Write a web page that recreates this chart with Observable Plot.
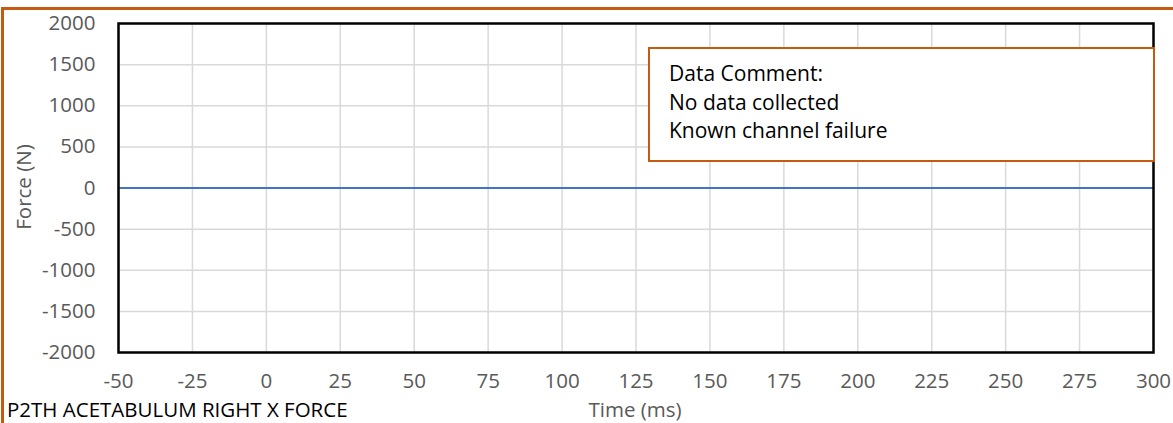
<!DOCTYPE html>
<html>
<head>
<meta charset="utf-8">
<script src="https://cdn.jsdelivr.net/npm/d3@7"></script>
<script src="https://cdn.jsdelivr.net/npm/@observablehq/plot@0.6"></script>
<style>
  html, body { margin: 0; padding: 0; background: #fff; overflow: hidden; }
  #wrap { position: relative; width: 1173px; height: 423px; overflow: hidden; font-family: "Open Sans", sans-serif; }
  #outer { position: absolute; left: 1px; top: 7px; width: 1300px; height: 600px; border: 3px solid #c55a11; box-sizing: border-box; }
  #chart { position: absolute; left: 0; top: 0; }
  .lbl { position: absolute; font-size: 20.5px; line-height: 20px; color: #595959; white-space: nowrap; }
  #title { position: absolute; left: 7px; top: 398.7px; font-size: 20.5px; line-height: 20px; color: #000; white-space: nowrap; }
  #note { position: absolute; left: 648px; top: 47px; width: 507px; height: 115px; border: 2.5px solid #c55a11; box-sizing: border-box; background: #fff; padding: 10px 0 0 19px; font-size: 21px; line-height: 28.5px; color: #000; }
</style>
</head>
<body>
<div id="wrap">
  <div id="outer"></div>
  <div id="chart"></div>
  <div id="note"></div>
  <div class="lbl" id="xlabel"></div>
  <div class="lbl" id="ylabel"></div>
  <div id="title"></div>
</div>
<script>
const timeMs = [-50, 300];
const forceN = [0, 0];
const xTicks = [-50, -25, 0, 25, 50, 75, 100, 125, 150, 175, 200, 225, 250, 275, 300];
const yTicks = [-2000, -1500, -1000, -500, 0, 500, 1000, 1500, 2000];
const titleText = "P2TH ACETABULUM RIGHT X FORCE";
const xLabelText = "Time (ms)";
const yLabelText = "Force (N)";
const noteLines = ["Data Comment:", "No data collected", "Known channel failure"];

const data = timeMs.map((t, i) => ({t, f: forceN[i]}));

const chart = Plot.plot({
  width: 1173,
  height: 423,
  marginLeft: 118,
  marginRight: 20,
  marginTop: 23,
  marginBottom: 71,
  style: {fontFamily: "'Open Sans', sans-serif", fontSize: "20.5px", color: "#595959", background: "transparent", overflow: "visible"},
  x: {domain: [-50, 300]},
  y: {domain: [-2000, 2000]},
  marks: [
    Plot.gridX(xTicks, {stroke: "#d9d9d9", strokeOpacity: 1, strokeWidth: 1.5}),
    Plot.gridY(yTicks, {stroke: "#d9d9d9", strokeOpacity: 1, strokeWidth: 1.5}),
    Plot.line(data, {x: "t", y: "f", stroke: "#4472c4", strokeWidth: 2}),
    Plot.frame({stroke: "#000", strokeWidth: 2.5}),
    Plot.axisX(xTicks, {tickSize: 0, tickPadding: 21, tickFormat: d => String(d), label: null, fill: "#595959", fontSize: 20.5}),
    Plot.axisY(yTicks, {tickSize: 0, tickPadding: 23, tickFormat: d => String(d), label: null, fill: "#595959", fontSize: 20.5})
  ]
});
document.getElementById("chart").appendChild(chart);

document.getElementById("title").textContent = titleText;
const xl = document.getElementById("xlabel");
xl.textContent = xLabelText;
xl.style.left = "635px"; xl.style.top = "398.7px"; xl.style.transform = "translateX(-50%)";
const yl = document.getElementById("ylabel");
yl.textContent = yLabelText;
yl.style.left = "23px"; yl.style.top = "187px"; yl.style.transform = "translate(-50%,-50%) rotate(-90deg)";
const note = document.getElementById("note");
noteLines.forEach(s => { const d = document.createElement("div"); d.textContent = s; note.appendChild(d); });
</script>
</body>
</html>
